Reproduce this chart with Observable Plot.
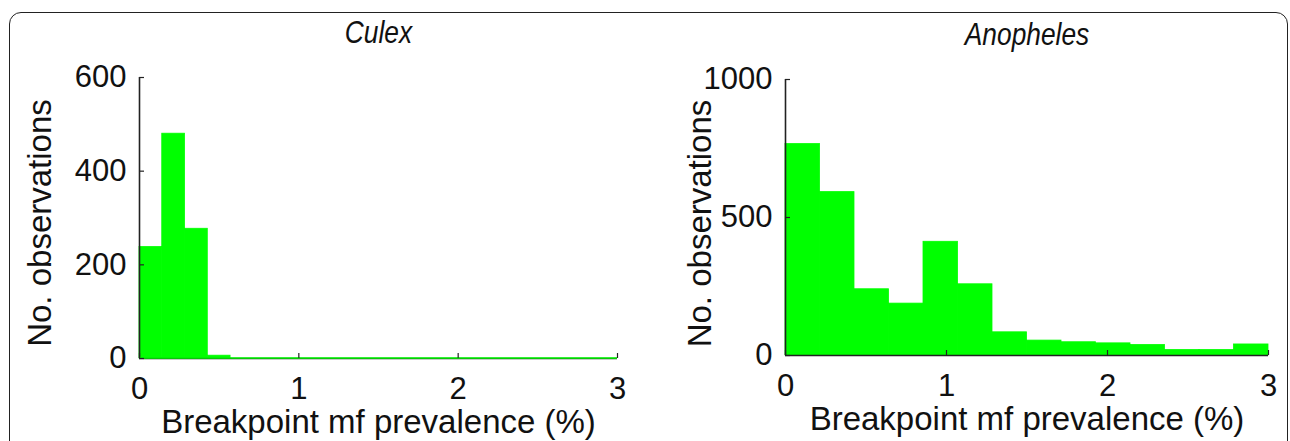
<!DOCTYPE html>
<html><head><meta charset="utf-8">
<script src="https://cdn.jsdelivr.net/npm/d3@7"></script>
<script src="https://cdn.jsdelivr.net/npm/@observablehq/plot@0.6"></script>
<style>
html,body{margin:0;padding:0;background:#fff;overflow:hidden;}
#wrap{position:relative;width:1290px;height:441px;overflow:hidden;background:#fff;}
#frame{position:absolute;left:9px;top:12px;width:1279px;height:480px;border:1.6px solid #222;border-radius:12px;box-sizing:border-box;}
.panel{position:absolute;top:0;}
</style></head><body>
<div id="wrap"><div id="frame"></div><div class="panel" id="left" style="left:0"></div><div class="panel" id="right" style="left:645px"></div></div>
<script>
// ---- data ----
const titles = ["Culex", "Anopheles"];
const xLabel = "Breakpoint mf prevalence (%)";
const yLabel = "No. observations";
const xTicks = [0, 1, 2, 3];
const xDomain = [0, 3];
const culexYTicks = [0, 200, 400, 600];
const anophelesYTicks = [0, 500, 1000];
// Culex: 21 bins over 0–3 %
const culexCounts = [238, 480, 277, 6, 0, 0, 0, 0, 0, 0, 0, 0, 0, 0, 0, 0, 0, 0, 0, 0, 0];
// Anopheles: 14 bins over 0–3 %
const anophelesCounts = [766, 592, 240, 188, 412, 258, 84, 54, 48, 44, 38, 20, 20, 40];

const GREEN = "#00ff00";
const INK = "#222";

function bins(counts) {
  const w = (xDomain[1] - xDomain[0]) / counts.length;
  return counts.map((c, i) => ({x1: xDomain[0] + i * w, x2: xDomain[0] + (i + 1) * w, count: c}));
}

function panel({counts, yMax, yTicks, title, mL, mR, mT, mB, ylDx, ylDy, greenBase}) {
  const svg = Plot.plot({
    width: 645, height: 441,
    marginLeft: mL, marginRight: mR, marginTop: mT, marginBottom: mB,
    style: {fontFamily: "'Liberation Sans', Arial, sans-serif", fontSize: "31px", color: "#111", background: "transparent"},
    x: {domain: xDomain, label: null},
    y: {domain: [0, yMax], label: null},
    marks: [
      Plot.rect(bins(counts), {x1: "x1", x2: "x2", y1: 0, y2: "count", fill: GREEN, stroke: GREEN, strokeWidth: 0.8, inset: 0}),
      Plot.ruleX([0], {stroke: INK, strokeWidth: 1.6}),
      Plot.ruleY([0], {stroke: INK, strokeWidth: 1.6}),
      greenBase ? Plot.ruleY([0], {stroke: GREEN, strokeWidth: 1.6, dy: -0.5}) : null,
      Plot.axisY({ticks: yTicks, tickSize: -5, tickPadding: 18, fontSize: 31, stroke: INK, strokeWidth: 1.2, tickFormat: d => String(d)}),
      Plot.axisX({ticks: xTicks, tickSize: -5, tickPadding: 23.5, fontSize: 31, stroke: INK, strokeWidth: 1.2, tickFormat: d => String(d)}),
      Plot.text([title], {frameAnchor: "top", text: d => d, dy: -44, fontSize: 31, fontStyle: "italic", lineAnchor: "middle", textAnchor: "middle", fill: "#111"}),
      Plot.text([xLabel], {frameAnchor: "bottom", text: d => d, dy: 63.5, fontSize: 33, lineAnchor: "middle", textAnchor: "middle", fill: "#111"}),
      Plot.text([yLabel], {frameAnchor: "left", text: d => d, rotate: -90, dx: ylDx, dy: ylDy, fontSize: 33, lineAnchor: "middle", textAnchor: "middle", fill: "#111"})
    ]
  });
  // condense the italic title horizontally (narrow Helvetica look)
  const tg = svg.querySelectorAll('g[aria-label="text"]')[0];
  if (tg) tg.querySelectorAll("text").forEach(t => {
    const cx = +(t.getAttribute("x") || 0);
    const tr = t.getAttribute("transform") || "";
    t.setAttribute("transform", `${tr} translate(${cx},0) scale(0.85,1) translate(${-cx},0)`);
  });
  return svg;
}

document.getElementById("left").append(panel({
  counts: culexCounts, yMax: 600, yTicks: culexYTicks, title: titles[0],
  mL: 139, mR: 28, mT: 77, mB: 83, ylDx: -99, ylDy: 5, greenBase: true
}));
document.getElementById("right").append(panel({
  counts: anophelesCounts, yMax: 1000, yTicks: anophelesYTicks, title: titles[1],
  mL: 140, mR: 22, mT: 79, mB: 86, ylDx: -85, ylDy: 6, greenBase: false
}));
</script>
</body></html>
